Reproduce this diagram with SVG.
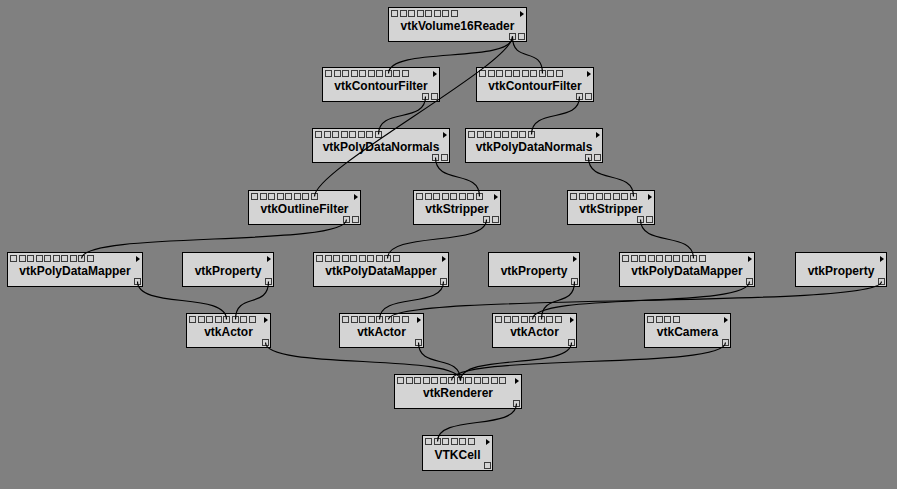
<svg xmlns="http://www.w3.org/2000/svg" width="897" height="489" viewBox="0 0 897 489">
<style>
.box{fill:#d4d4d4;stroke:#000;stroke-width:1}
.port{fill:#d4d4d4;stroke:#3c3c3c;stroke-width:1}
.tri{fill:#000}
.lbl{font-family:"Liberation Sans",Arial,sans-serif;font-size:12px;font-weight:bold;text-anchor:middle;fill:#000}
.wire{fill:none;stroke:#000;stroke-width:1.2}
</style>
<defs>
<rect id="pt" class="port" width="6" height="6"/>
<path id="tri" class="tri" d="M0,0L4,3L0,6Z"/>
</defs>
<rect width="897" height="489" fill="#808080"/>
<g id="nodes">
<g id="reader" transform="translate(388,7)">
<rect class="box" x="0.5" y="0.5" width="138" height="34"/>
<use href="#pt" x="3.5" y="3.5"/><use href="#pt" x="12.5" y="3.5"/><use href="#pt" x="20.5" y="3.5"/><use href="#pt" x="29.5" y="3.5"/><use href="#pt" x="37.5" y="3.5"/><use href="#pt" x="46.5" y="3.5"/><use href="#pt" x="54.5" y="3.5"/><use href="#pt" x="63.5" y="3.5"/>
<use href="#pt" x="121.5" y="26.5"/><use href="#pt" x="130.5" y="26.5"/>
<use href="#tri" x="132" y="4"/>
<text class="lbl" x="69.5" y="23">vtkVolume16Reader</text>
</g>
<g id="contour1" transform="translate(322,67)">
<rect class="box" x="0.5" y="0.5" width="117" height="34"/>
<use href="#pt" x="3.5" y="3.5"/><use href="#pt" x="12.5" y="3.5"/><use href="#pt" x="20.5" y="3.5"/><use href="#pt" x="29.5" y="3.5"/><use href="#pt" x="37.5" y="3.5"/><use href="#pt" x="46.5" y="3.5"/><use href="#pt" x="54.5" y="3.5"/><use href="#pt" x="63.5" y="3.5"/><use href="#pt" x="71.5" y="3.5"/><use href="#pt" x="80.5" y="3.5"/>
<use href="#pt" x="100.5" y="26.5"/><use href="#pt" x="109.5" y="26.5"/>
<use href="#tri" x="111" y="4"/>
<text class="lbl" x="59" y="23">vtkContourFilter</text>
</g>
<g id="contour2" transform="translate(476,67)">
<rect class="box" x="0.5" y="0.5" width="117" height="34"/>
<use href="#pt" x="3.5" y="3.5"/><use href="#pt" x="12.5" y="3.5"/><use href="#pt" x="20.5" y="3.5"/><use href="#pt" x="29.5" y="3.5"/><use href="#pt" x="37.5" y="3.5"/><use href="#pt" x="46.5" y="3.5"/><use href="#pt" x="54.5" y="3.5"/><use href="#pt" x="63.5" y="3.5"/><use href="#pt" x="71.5" y="3.5"/><use href="#pt" x="80.5" y="3.5"/>
<use href="#pt" x="100.5" y="26.5"/><use href="#pt" x="109.5" y="26.5"/>
<use href="#tri" x="111" y="4"/>
<text class="lbl" x="59" y="23">vtkContourFilter</text>
</g>
<g id="normals1" transform="translate(312,128)">
<rect class="box" x="0.5" y="0.5" width="137" height="34"/>
<use href="#pt" x="3.5" y="3.5"/><use href="#pt" x="12.5" y="3.5"/><use href="#pt" x="20.5" y="3.5"/><use href="#pt" x="29.5" y="3.5"/><use href="#pt" x="37.5" y="3.5"/><use href="#pt" x="46.5" y="3.5"/><use href="#pt" x="54.5" y="3.5"/><use href="#pt" x="63.5" y="3.5"/>
<use href="#pt" x="120.5" y="26.5"/><use href="#pt" x="129.5" y="26.5"/>
<use href="#tri" x="131" y="4"/>
<text class="lbl" x="69" y="23">vtkPolyDataNormals</text>
</g>
<g id="normals2" transform="translate(465,128)">
<rect class="box" x="0.5" y="0.5" width="137" height="34"/>
<use href="#pt" x="3.5" y="3.5"/><use href="#pt" x="12.5" y="3.5"/><use href="#pt" x="20.5" y="3.5"/><use href="#pt" x="29.5" y="3.5"/><use href="#pt" x="37.5" y="3.5"/><use href="#pt" x="46.5" y="3.5"/><use href="#pt" x="54.5" y="3.5"/><use href="#pt" x="63.5" y="3.5"/>
<use href="#pt" x="120.5" y="26.5"/><use href="#pt" x="129.5" y="26.5"/>
<use href="#tri" x="131" y="4"/>
<text class="lbl" x="69" y="23">vtkPolyDataNormals</text>
</g>
<g id="outline" transform="translate(248,190)">
<rect class="box" x="0.5" y="0.5" width="112" height="34"/>
<use href="#pt" x="3.5" y="3.5"/><use href="#pt" x="12.5" y="3.5"/><use href="#pt" x="20.5" y="3.5"/><use href="#pt" x="29.5" y="3.5"/><use href="#pt" x="37.5" y="3.5"/><use href="#pt" x="46.5" y="3.5"/><use href="#pt" x="54.5" y="3.5"/><use href="#pt" x="63.5" y="3.5"/>
<use href="#pt" x="95.5" y="26.5"/><use href="#pt" x="104.5" y="26.5"/>
<use href="#tri" x="106" y="4"/>
<text class="lbl" x="56.5" y="23">vtkOutlineFilter</text>
</g>
<g id="stripper1" transform="translate(413,190)">
<rect class="box" x="0.5" y="0.5" width="87" height="34"/>
<use href="#pt" x="3.5" y="3.5"/><use href="#pt" x="12.5" y="3.5"/><use href="#pt" x="20.5" y="3.5"/><use href="#pt" x="29.5" y="3.5"/><use href="#pt" x="37.5" y="3.5"/><use href="#pt" x="46.5" y="3.5"/><use href="#pt" x="54.5" y="3.5"/><use href="#pt" x="63.5" y="3.5"/>
<use href="#pt" x="70.5" y="26.5"/><use href="#pt" x="79.5" y="26.5"/>
<use href="#tri" x="81" y="4"/>
<text class="lbl" x="44" y="23">vtkStripper</text>
</g>
<g id="stripper2" transform="translate(567,190)">
<rect class="box" x="0.5" y="0.5" width="87" height="34"/>
<use href="#pt" x="3.5" y="3.5"/><use href="#pt" x="12.5" y="3.5"/><use href="#pt" x="20.5" y="3.5"/><use href="#pt" x="29.5" y="3.5"/><use href="#pt" x="37.5" y="3.5"/><use href="#pt" x="46.5" y="3.5"/><use href="#pt" x="54.5" y="3.5"/><use href="#pt" x="63.5" y="3.5"/>
<use href="#pt" x="70.5" y="26.5"/><use href="#pt" x="79.5" y="26.5"/>
<use href="#tri" x="81" y="4"/>
<text class="lbl" x="44" y="23">vtkStripper</text>
</g>
<g id="mapper1" transform="translate(7,252)">
<rect class="box" x="0.5" y="0.5" width="135" height="34"/>
<use href="#pt" x="3.5" y="3.5"/><use href="#pt" x="12.5" y="3.5"/><use href="#pt" x="20.5" y="3.5"/><use href="#pt" x="29.5" y="3.5"/><use href="#pt" x="37.5" y="3.5"/><use href="#pt" x="46.5" y="3.5"/><use href="#pt" x="54.5" y="3.5"/><use href="#pt" x="63.5" y="3.5"/><use href="#pt" x="71.5" y="3.5"/><use href="#pt" x="80.5" y="3.5"/>
<use href="#pt" x="127.5" y="26.5"/>
<use href="#tri" x="129" y="4"/>
<text class="lbl" x="68" y="23">vtkPolyDataMapper</text>
</g>
<g id="property1" transform="translate(182,252)">
<rect class="box" x="0.5" y="0.5" width="91" height="34"/>
<use href="#pt" x="83.5" y="26.5"/>
<use href="#tri" x="85" y="4"/>
<text class="lbl" x="46" y="23">vtkProperty</text>
</g>
<g id="mapper2" transform="translate(313,252)">
<rect class="box" x="0.5" y="0.5" width="135" height="34"/>
<use href="#pt" x="3.5" y="3.5"/><use href="#pt" x="12.5" y="3.5"/><use href="#pt" x="20.5" y="3.5"/><use href="#pt" x="29.5" y="3.5"/><use href="#pt" x="37.5" y="3.5"/><use href="#pt" x="46.5" y="3.5"/><use href="#pt" x="54.5" y="3.5"/><use href="#pt" x="63.5" y="3.5"/><use href="#pt" x="71.5" y="3.5"/><use href="#pt" x="80.5" y="3.5"/>
<use href="#pt" x="127.5" y="26.5"/>
<use href="#tri" x="129" y="4"/>
<text class="lbl" x="68" y="23">vtkPolyDataMapper</text>
</g>
<g id="property2" transform="translate(488,252)">
<rect class="box" x="0.5" y="0.5" width="91" height="34"/>
<use href="#pt" x="83.5" y="26.5"/>
<use href="#tri" x="85" y="4"/>
<text class="lbl" x="46" y="23">vtkProperty</text>
</g>
<g id="mapper3" transform="translate(619,252)">
<rect class="box" x="0.5" y="0.5" width="135" height="34"/>
<use href="#pt" x="3.5" y="3.5"/><use href="#pt" x="12.5" y="3.5"/><use href="#pt" x="20.5" y="3.5"/><use href="#pt" x="29.5" y="3.5"/><use href="#pt" x="37.5" y="3.5"/><use href="#pt" x="46.5" y="3.5"/><use href="#pt" x="54.5" y="3.5"/><use href="#pt" x="63.5" y="3.5"/><use href="#pt" x="71.5" y="3.5"/><use href="#pt" x="80.5" y="3.5"/>
<use href="#pt" x="127.5" y="26.5"/>
<use href="#tri" x="129" y="4"/>
<text class="lbl" x="68" y="23">vtkPolyDataMapper</text>
</g>
<g id="property3" transform="translate(795,252)">
<rect class="box" x="0.5" y="0.5" width="91" height="34"/>
<use href="#pt" x="83.5" y="26.5"/>
<use href="#tri" x="85" y="4"/>
<text class="lbl" x="46" y="23">vtkProperty</text>
</g>
<g id="actor1" transform="translate(186,313)">
<rect class="box" x="0.5" y="0.5" width="84" height="34"/>
<use href="#pt" x="3.5" y="3.5"/><use href="#pt" x="12.5" y="3.5"/><use href="#pt" x="20.5" y="3.5"/><use href="#pt" x="29.5" y="3.5"/><use href="#pt" x="37.5" y="3.5"/><use href="#pt" x="46.5" y="3.5"/><use href="#pt" x="54.5" y="3.5"/><use href="#pt" x="63.5" y="3.5"/>
<use href="#pt" x="76.5" y="26.5"/>
<use href="#tri" x="78" y="4"/>
<text class="lbl" x="42.5" y="23">vtkActor</text>
</g>
<g id="actor2" transform="translate(339,313)">
<rect class="box" x="0.5" y="0.5" width="84" height="34"/>
<use href="#pt" x="3.5" y="3.5"/><use href="#pt" x="12.5" y="3.5"/><use href="#pt" x="20.5" y="3.5"/><use href="#pt" x="29.5" y="3.5"/><use href="#pt" x="37.5" y="3.5"/><use href="#pt" x="46.5" y="3.5"/><use href="#pt" x="54.5" y="3.5"/><use href="#pt" x="63.5" y="3.5"/>
<use href="#pt" x="76.5" y="26.5"/>
<use href="#tri" x="78" y="4"/>
<text class="lbl" x="42.5" y="23">vtkActor</text>
</g>
<g id="actor3" transform="translate(492,313)">
<rect class="box" x="0.5" y="0.5" width="84" height="34"/>
<use href="#pt" x="3.5" y="3.5"/><use href="#pt" x="12.5" y="3.5"/><use href="#pt" x="20.5" y="3.5"/><use href="#pt" x="29.5" y="3.5"/><use href="#pt" x="37.5" y="3.5"/><use href="#pt" x="46.5" y="3.5"/><use href="#pt" x="54.5" y="3.5"/><use href="#pt" x="63.5" y="3.5"/>
<use href="#pt" x="76.5" y="26.5"/>
<use href="#tri" x="78" y="4"/>
<text class="lbl" x="42.5" y="23">vtkActor</text>
</g>
<g id="camera" transform="translate(644,313)">
<rect class="box" x="0.5" y="0.5" width="86" height="34"/>
<use href="#pt" x="3.5" y="3.5"/><use href="#pt" x="12.5" y="3.5"/><use href="#pt" x="20.5" y="3.5"/><use href="#pt" x="29.5" y="3.5"/>
<use href="#pt" x="78.5" y="26.5"/>
<use href="#tri" x="80" y="4"/>
<text class="lbl" x="43.5" y="23">vtkCamera</text>
</g>
<g id="renderer" transform="translate(394,374)">
<rect class="box" x="0.5" y="0.5" width="127" height="34"/>
<use href="#pt" x="3.5" y="3.5"/><use href="#pt" x="12.5" y="3.5"/><use href="#pt" x="20.5" y="3.5"/><use href="#pt" x="29.5" y="3.5"/><use href="#pt" x="37.5" y="3.5"/><use href="#pt" x="46.5" y="3.5"/><use href="#pt" x="54.5" y="3.5"/><use href="#pt" x="63.5" y="3.5"/><use href="#pt" x="71.5" y="3.5"/><use href="#pt" x="80.5" y="3.5"/><use href="#pt" x="88.5" y="3.5"/><use href="#pt" x="97.5" y="3.5"/><use href="#pt" x="105.5" y="3.5"/>
<use href="#pt" x="119.5" y="26.5"/>
<use href="#tri" x="121" y="4"/>
<text class="lbl" x="64" y="23">vtkRenderer</text>
</g>
<g id="vtkcell" transform="translate(422,435)">
<rect class="box" x="0.5" y="0.5" width="70" height="35"/>
<use href="#pt" x="3.5" y="3.5"/><use href="#pt" x="12.5" y="3.5"/><use href="#pt" x="20.5" y="3.5"/><use href="#pt" x="29.5" y="3.5"/><use href="#pt" x="37.5" y="3.5"/><use href="#pt" x="46.5" y="3.5"/>
<use href="#pt" x="62.5" y="27.5"/>
<use href="#tri" x="64" y="4"/>
<text class="lbl" x="35.5" y="24">VTKCell</text>
</g>
</g>
<g id="connectors" class="wire">
<path d="M512.5 36.5C512.5 64.5 388.5 45.5 388.5 73.5"/>
<path d="M512.5 36.5C512.5 64.5 542.5 45.5 542.5 73.5"/>
<path d="M512.5 36.5C512.5 64.5 314.5 168.5 314.5 196.5"/>
<path d="M425.5 96.5C425.5 124.5 378.5 106.5 378.5 134.5"/>
<path d="M579.5 96.5C579.5 124.5 531.5 106.5 531.5 134.5"/>
<path d="M435.5 157.5C435.5 185.5 479.5 168.5 479.5 196.5"/>
<path d="M588.5 157.5C588.5 185.5 633.5 168.5 633.5 196.5"/>
<path d="M346.5 219.5C346.5 247.5 81.5 230.5 81.5 258.5"/>
<path d="M486.5 219.5C486.5 247.5 387.5 230.5 387.5 258.5"/>
<path d="M640.5 219.5C640.5 247.5 693.5 230.5 693.5 258.5"/>
<path d="M137.5 281.5C137.5 309.5 226.5 291.5 226.5 319.5"/>
<path d="M268.5 281.5C268.5 309.5 235.5 291.5 235.5 319.5"/>
<path d="M443.5 281.5C443.5 309.5 379.5 291.5 379.5 319.5"/>
<path d="M574.5 281.5C574.5 309.5 541.5 291.5 541.5 319.5"/>
<path d="M749.5 281.5C749.5 309.5 532.5 291.5 532.5 319.5"/>
<path d="M881.5 281.5C881.5 309.5 388.5 291.5 388.5 319.5"/>
<path d="M265.5 342.5C265.5 370.5 460.5 352.5 460.5 380.5"/>
<path d="M418.5 342.5C418.5 370.5 460.5 352.5 460.5 380.5"/>
<path d="M571.5 342.5C571.5 370.5 460.5 352.5 460.5 380.5"/>
<path d="M725.5 342.5C725.5 370.5 451.5 352.5 451.5 380.5"/>
<path d="M516.5 403.5C516.5 431.5 437.5 413.5 437.5 441.5"/>
</g>
</svg>
